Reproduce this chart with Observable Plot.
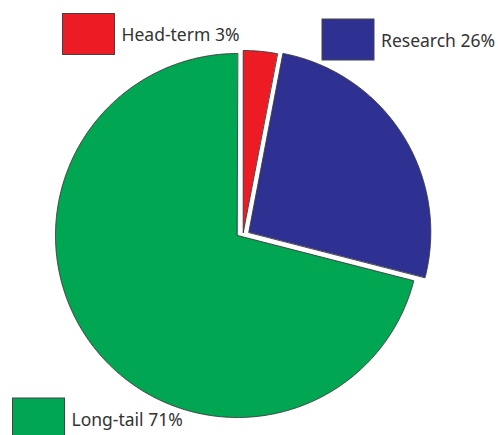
<!DOCTYPE html>
<html><head><meta charset="utf-8">
<script src="https://cdn.jsdelivr.net/npm/d3@7"></script>
<script src="https://cdn.jsdelivr.net/npm/@observablehq/plot@0.6"></script>
<style>body{margin:0;background:#fff;overflow:hidden}</style>
</head><body><div id="chart"></div>
<script>
// ---- data ----
const categories = ["Head-term", "Research", "Long-tail"];
const shares = [3, 26, 71];
const colors = ["#ED1C24", "#2E3192", "#00A651"];

// ---- layout ----
const W = 498, H = 435, CX = 237, CY = 235, R = 182;
const explode = [[5.7, -3], [11.3, -3.3], [0, 0]];
const legendPos = [[62.5, 13.5], [322, 19], [12.5, 398]];
const SW = 52, SH = 41;

const data = categories.map((c, i) => ({cat: c, share: shares[i], color: colors[i], i}));
const arcs = d3.pie().sort(null).value(d => d.share)(data);

const pts = [];
for (const a of arcs) {
  const [dx, dy] = explode[a.data.i];
  const ox = CX + dx, oy = CY + dy;
  pts.push({cat: a.data.cat, color: a.data.color, x: ox, y: oy});
  const n = Math.max(4, Math.ceil((a.endAngle - a.startAngle) / 0.01));
  for (let k = 0; k <= n; k++) {
    const t = a.startAngle + (a.endAngle - a.startAngle) * k / n;
    pts.push({cat: a.data.cat, color: a.data.color, x: ox + R * Math.sin(t), y: oy - R * Math.cos(t)});
  }
}

const legend = data.map(d => ({
  label: `${d.cat} ${d.share}%`, color: d.color,
  x1: legendPos[d.i][0], x2: legendPos[d.i][0] + SW,
  y1: legendPos[d.i][1], y2: legendPos[d.i][1] + SH
}));

const chart = Plot.plot({
  width: W, height: H,
  marginTop: 0, marginRight: 0, marginBottom: 0, marginLeft: 0,
  x: {domain: [0, W], range: [0, W], axis: null},
  y: {domain: [0, H], range: [0, H], axis: null},
  color: {type: "identity"},
  style: {fontFamily: "Noto Sans, sans-serif", background: "#fff"},
  marks: [
    Plot.line(pts, {x: "x", y: "y", z: "cat", fill: "color", stroke: "#3a3a3a", strokeWidth: 0.9, curve: "linear-closed"}),
    Plot.rect(legend, {x1: "x1", x2: "x2", y1: "y1", y2: "y2", fill: "color", stroke: "#444", strokeWidth: 1}),
    Plot.text(legend, {x: d => d.x2 + 6.5, y: d => (d.y1 + d.y2) / 2 + 1, text: "label", textAnchor: "start", fontSize: 17.5, fill: "#333"})
  ]
});
document.getElementById("chart").append(chart);
</script>
</body></html>
